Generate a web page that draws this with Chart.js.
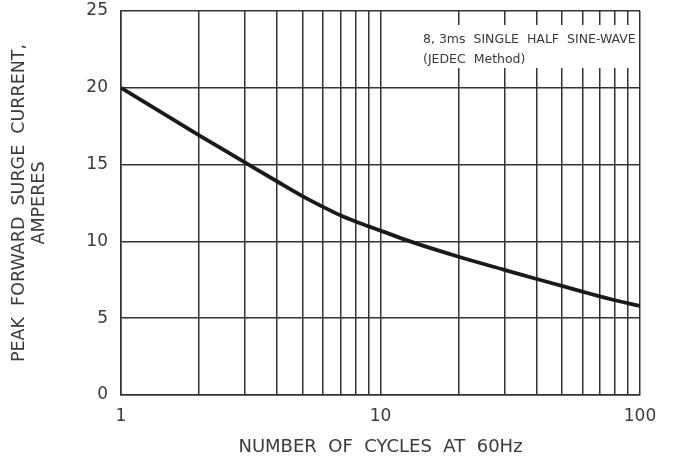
<!DOCTYPE html>
<html>
<head>
<meta charset="utf-8">
<script src="https://cdn.jsdelivr.net/npm/chart.js@4"></script>
<style>
  html, body { margin: 0; padding: 0; background: #fff; }
  #wrap { position: relative; width: 673px; height: 462px; }
</style>
</head>
<body>
<div id="wrap"><canvas id="chart" width="673" height="462"></canvas></div>
<script>
const cycles = [1, 2, 3, 4, 5, 6, 7, 8, 9, 10, 13, 20, 30, 40, 50, 60, 70, 80, 90, 100];
const current = [20, 16.9, 15.15, 13.9, 12.95, 12.25, 11.7, 11.3, 10.98, 10.7, 10.0, 9.0, 8.15, 7.55, 7.1, 6.73, 6.42, 6.17, 5.97, 5.8];
const xGrid = [1, 2, 3, 4, 5, 6, 7, 8, 9, 10, 20, 30, 40, 50, 60, 70, 80, 90, 100];
const xLabels = [1, 10, 100];
const noteLines = ['8, 3ms  SINGLE  HALF  SINE-WAVE', '(JEDEC  Method)'];
const yTitle = ['PEAK  FORWARD  SURGE  CURRENT,', 'AMPERES'];
const xTitle = 'NUMBER  OF  CYCLES  AT  60Hz';

const FONT = 'DejaVu Sans';
const TEXT = '#3a3a3a';
const GRID = '#333';

const notePlugin = {
  id: 'note',
  afterDatasetsDraw(chart) {
    const { ctx, chartArea } = chart;
    const w = 220, h = 43;
    const x = chartArea.right - w, y = chartArea.top + 14;
    ctx.save();
    ctx.fillStyle = '#fff';
    ctx.fillRect(x, y, w - 1, h);
    ctx.fillStyle = TEXT;
    ctx.font = `12.5px "${FONT}"`;
    ctx.textBaseline = 'middle';
    ctx.fillText(noteLines[0], x + 3, y + 15);
    ctx.fillText(noteLines[1], x + 3, y + 35);
    ctx.restore();
  }
};

new Chart(document.getElementById('chart'), {
  type: 'line',
  data: {
    datasets: [{
      data: cycles.map((c, i) => ({ x: c, y: current[i] })),
      borderColor: '#1a1a1a',
      borderWidth: 3.8,
      pointRadius: 0,
      cubicInterpolationMode: 'monotone',
    }],
  },
  options: {
    responsive: false,
    animation: false,
    layout: { padding: { top: 11, right: 33, left: 0, bottom: 0 } },
    plugins: { legend: { display: false }, tooltip: { enabled: false } },
    scales: {
      x: {
        type: 'logarithmic',
        min: 1,
        max: 100,
        afterBuildTicks: s => { s.ticks = xGrid.map(v => ({ value: v })); },
        afterFit: s => { s.height = 67; s.paddingLeft = 0; s.paddingRight = 0; },
        grid: { color: GRID, lineWidth: 1.5, drawTicks: false },
        border: { color: GRID, width: 1.5 },
        ticks: {
          autoSkip: false,
          maxRotation: 0,
          padding: 11,
          color: TEXT,
          font: { family: FONT, size: 17 },
          callback: v => (xLabels.includes(v) ? String(v) : ''),
        },
        title: {
          display: true,
          text: xTitle,
          color: TEXT,
          font: { family: FONT, size: 18 },
          padding: { top: 10 },
        },
      },
      y: {
        min: 0,
        max: 25,
        afterFit: s => { s.width = 121; s.paddingTop = 0; s.paddingBottom = 0; },
        grid: { color: GRID, lineWidth: 1.5, drawTicks: false },
        border: { color: GRID, width: 1.5 },
        ticks: {
          stepSize: 5,
          padding: 13,
          color: TEXT,
          font: { family: FONT, size: 17 },
        },
        title: {
          display: true,
          text: yTitle,
          color: TEXT,
          font: { family: FONT, size: 17.5, lineHeight: 1.15 },
          padding: { top: 9, bottom: 0 },
        },
      },
    },
  },
  plugins: [notePlugin],
});
</script>
</body>
</html>
